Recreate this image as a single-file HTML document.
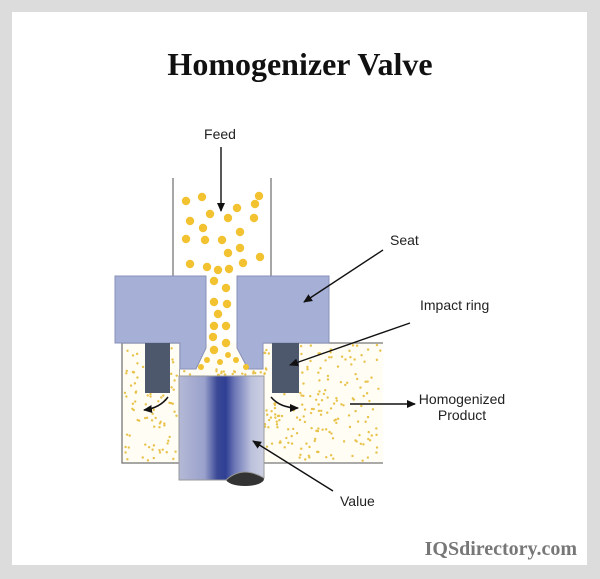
<!DOCTYPE html>
<html><head><meta charset="utf-8"><style>
html,body{margin:0;padding:0;background:#dcdcdc;}
svg{display:block}
</style></head><body>
<svg id="s" width="600" height="579" xmlns="http://www.w3.org/2000/svg">
<defs>
<linearGradient id="vg" x1="0" x2="1" y1="0" y2="0">
<stop offset="0" stop-color="#b4b9d6"/><stop offset="0.3" stop-color="#9aa1cc"/>
<stop offset="0.45" stop-color="#3a4896"/><stop offset="0.55" stop-color="#2f3f93"/><stop offset="0.65" stop-color="#6a75b5"/>
<stop offset="0.85" stop-color="#bcc1dc"/><stop offset="1" stop-color="#cdd0e3"/>
</linearGradient>
<marker id="ah" markerWidth="10" markerHeight="10" refX="8" refY="5" orient="auto" markerUnits="userSpaceOnUse"><path d="M0,1 L9,5 L0,9 z" fill="#111"/></marker>
</defs>
<rect x="12" y="12" width="575" height="553" fill="#fff"/>
<text x="300" y="75" text-anchor="middle" font-family="Liberation Serif,serif" font-weight="bold" font-size="32" fill="#111">Homogenizer Valve</text>
<rect x="122" y="343" width="58" height="120" fill="#fffdf4" stroke="#777" stroke-width="1.3"/>
<rect x="180" y="343" width="203" height="120" fill="#fffdf4"/>
<path d="M264,343 H383 M264,463 H383" fill="none" stroke="#777" stroke-width="1.3"/>
<g id="dots"></g>
<path d="M173,178 V276 M271,178 V276" stroke="#777" stroke-width="1.3"/>
<path d="M115,276 H206 V348 L196,369 H180 V343 H115 Z" fill="#a6afd6" stroke="#8890b8"/>
<path d="M237,276 H329 V343 H263 V369 H248 L237,348 Z" fill="#a6afd6" stroke="#8890b8"/>
<rect x="145" y="343" width="25" height="50" fill="#4e586d"/>
<rect x="272" y="343" width="27" height="50" fill="#4e586d"/>
<ellipse cx="245" cy="479" rx="19" ry="7" fill="#333"/>
<path d="M179,376 H264 V478 Q254,472 245,472 Q235,472 226,480 H179 Z" fill="url(#vg)" stroke="#999"/>
<g id="big"></g>
<path d="M168,397 Q160,408 144,410" fill="none" stroke="#111" stroke-width="1.5" marker-end="url(#ah)"/>
<path d="M271,397 Q280,408 298,408" fill="none" stroke="#111" stroke-width="1.5" marker-end="url(#ah)"/>
<g font-family="Liberation Sans,sans-serif" font-size="14" fill="#222">
<text x="220" y="139" text-anchor="middle">Feed</text>
<text x="390" y="245">Seat</text>
<text x="420" y="310">Impact ring</text>
<text x="462" y="404" text-anchor="middle">Homogenized</text>
<text x="462" y="420" text-anchor="middle">Product</text>
<text x="340" y="506">Value</text>
</g>
<g stroke="#111" stroke-width="1.4" fill="none" marker-end="url(#ah)">
<line x1="221" y1="147" x2="221" y2="211"/>
<line x1="383" y1="250" x2="304" y2="302"/>
<line x1="410" y1="323" x2="290" y2="365"/>
<line x1="350" y1="404" x2="415" y2="404"/>
<line x1="333" y1="491" x2="253" y2="441"/>
</g>
<text x="577" y="555" text-anchor="end" font-family="Liberation Serif,serif" font-weight="bold" font-size="20" fill="#777">IQSdirectory.com</text>
</svg>
<script>
var ns="http://www.w3.org/2000/svg",seed=7;
function r(){seed=(seed*9301+49297)%233280;return seed/233280;}
function c(g,x,y,rad,f){var e=document.createElementNS(ns,"circle");e.setAttribute("cx",x);e.setAttribute("cy",y);e.setAttribute("r",rad);e.setAttribute("fill",f);document.getElementById(g).appendChild(e);}
function fill(x0,y0,x1,y1,n){for(var i=0;i<n;i++)c("dots",x0+r()*(x1-x0),y0+r()*(y1-y0),1.2,"#e8c24a");}
fill(124,345,144,461,30);fill(145,394,178,461,40);fill(171,345,179,393,8);
fill(180,369,263,375,20);fill(265,394,381,461,120);fill(300,345,381,394,50);fill(264,345,271,393,8);
var big=[[186,201],[202,197],[210,214],[237,208],[259,196],[255,204],[190,221],[203,228],[228,218],[240,232],[254,218],[186,239],[205,240],[222,240],[240,248],[260,257],[190,264],[207,267],[218,270],[229,269],[243,263],[228,253],[214,281],[226,288],[214,302],[227,304],[218,314],[214,326],[226,326],[213,337],[226,343],[214,350],[228,355],[207,360],[220,362],[236,360],[246,367],[201,367]];
big.forEach(function(p){c("big",p[0],p[1],p[1]>350?3:4.2,"#f2c230");});
</script>
</body></html>
